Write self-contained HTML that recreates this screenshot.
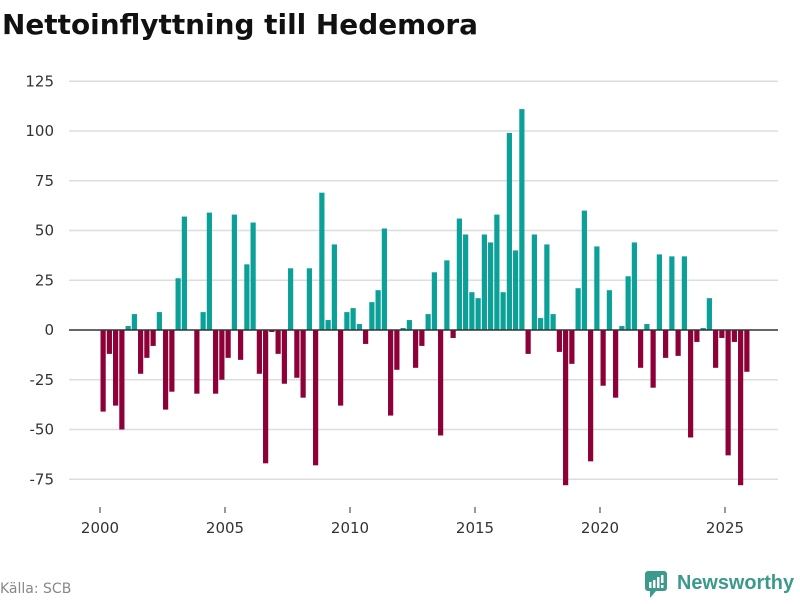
<!DOCTYPE html>
<html><head><meta charset="utf-8"><style>
body{margin:0;background:#fff;width:800px;height:600px;overflow:hidden;font-family:"DejaVu Sans","Liberation Sans",sans-serif}
</style></head><body>
<svg width="800" height="600" viewBox="0 0 800 600" xmlns="http://www.w3.org/2000/svg">
<text x="2" y="34" font-size="28" font-weight="bold" fill="#111" textLength="476" lengthAdjust="spacingAndGlyphs">Nettoinflyttning till Hedemora</text>
<g id="grid"></g><g id="bars"></g><g id="xaxis"></g>
<text x="0" y="593" font-size="14" fill="#888">Källa: SCB</text>
<g>
<rect x="645" y="571" width="22" height="20" rx="3" fill="#3a9a8c"/>
<polygon points="650,591 656,591 650,598" fill="#3a9a8c"/>
<rect x="649" y="582" width="2.5" height="6" fill="#fff"/><rect x="653" y="580" width="2.5" height="8" fill="#fff"/><rect x="657" y="577" width="2.5" height="11" fill="#fff"/><rect x="661" y="575" width="2.5" height="8" fill="#fff"/><rect x="661" y="585" width="2.5" height="3" fill="#fff"/>
<text x="677" y="589" font-size="20" font-weight="bold" fill="#3a9a8c" font-family="Liberation Sans, sans-serif" textLength="117" lengthAdjust="spacingAndGlyphs">Newsworthy</text>
</g>
</svg>
<script>
const years=[2000,2005,2010,2015,2020,2025];
const yTicks=[-75,-50,-25,0,25,50,75,100,125];
const startYear=2000;
const values=[-41,-12,-38,-50,2,8,-22,-14,-8,9,-40,-31,26,57,0,-32,9,59,-32,-25,-14,58,-15,33,54,-22,-67,-1,-12,-27,31,-24,-34,31,-68,69,5,43,-38,9,11,3,-7,14,20,51,-43,-20,1,5,-19,-8,8,29,-53,35,-4,56,48,19,16,48,44,58,19,99,40,111,-12,48,6,43,8,-11,-78,-17,21,60,-66,42,-28,20,-34,2,27,44,-19,3,-29,38,-14,37,-13,37,-54,-6,1,16,-19,-4,-63,-6,-78,-21];
const NS='http://www.w3.org/2000/svg';
const xs=t=>100+(t-2000)*25;
const ys=v=>330-v*1.99;
const grid=document.getElementById('grid'),bars=document.getElementById('bars'),xa=document.getElementById('xaxis');
function mk(tag,a,parent){const e=document.createElementNS(NS,tag);for(const k in a)e.setAttribute(k,a[k]);parent.appendChild(e);return e;}
yTicks.forEach(v=>{
  if(v!==0){const l=mk('line',{x1:69,x2:778,y1:ys(v),y2:ys(v),stroke:'#ddd','stroke-width':1.5},grid);
  
  }
  const t=mk('text',{x:54,y:ys(v)+5,'text-anchor':'end','font-size':15,fill:'#333'},grid);
  t.textContent=v;
  
  
});
values.forEach((v,i)=>{
  const c=xs(startYear+(i+0.5)/4);
  const y0=ys(Math.max(v,0)),y1=ys(Math.min(v,0));
  const r=mk('rect',{x:c-2.6,y:y0,width:5.2,height:Math.max(y1-y0,0),fill:v>=0?'#0ba098':'#8e0038'},bars);
  
  
});
const z=mk('line',{x1:69,x2:778,y1:ys(0),y2:ys(0),stroke:'#333','stroke-width':1.5},bars);


years.forEach(y=>{
  const tk=mk('line',{x1:xs(y),x2:xs(y),y1:507,y2:513,stroke:'#333','stroke-width':1},xa);
  
  
  const t=mk('text',{x:xs(y),y:533,'text-anchor':'middle','font-size':15,fill:'#333'},xa);
  t.textContent=y;
  
  
});
</script>
</body></html>
